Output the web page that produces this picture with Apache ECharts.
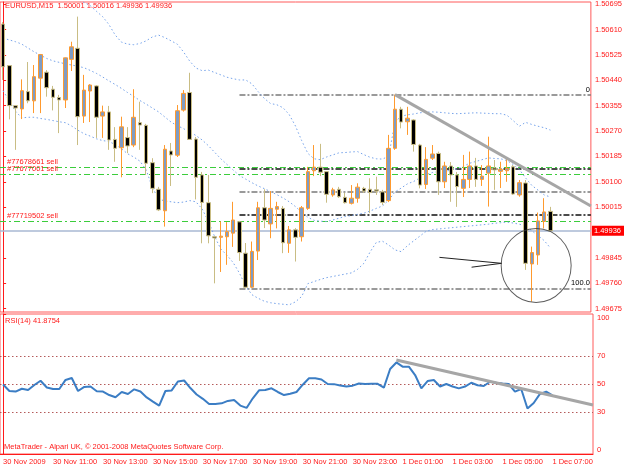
<!DOCTYPE html>
<html><head><meta charset="utf-8">
<script src="https://cdn.jsdelivr.net/npm/echarts@6/dist/echarts.min.js"></script>
<style>html,body{margin:0;padding:0;background:#fff}#c{width:625px;height:469px}</style>
</head><body><div id="c"></div>
<script>
// ---- bar times (M15) ----
const times = [
'30.11 09:00','30.11 09:15','30.11 09:30','30.11 09:45','30.11 10:00','30.11 10:15','30.11 10:30','30.11 10:45',
'30.11 11:00','30.11 11:15','30.11 11:30','30.11 11:45','30.11 12:00','30.11 12:15','30.11 12:30','30.11 12:45',
'30.11 13:00','30.11 13:15','30.11 13:30','30.11 13:45','30.11 14:00','30.11 14:15','30.11 14:30','30.11 14:45',
'30.11 15:00','30.11 15:15','30.11 15:30','30.11 15:45','30.11 16:00','30.11 16:15','30.11 16:30','30.11 16:45',
'30.11 17:00','30.11 17:15','30.11 17:30','30.11 17:45','30.11 18:00','30.11 18:15','30.11 18:30','30.11 18:45',
'30.11 19:00','30.11 19:15','30.11 19:30','30.11 19:45','30.11 20:00','30.11 20:15','30.11 20:30','30.11 20:45',
'30.11 21:00','30.11 21:15','30.11 21:30','30.11 21:45','30.11 22:00','30.11 22:15','30.11 22:30','30.11 22:45',
'30.11 23:00','30.11 23:15','30.11 23:30','30.11 23:45','01.12 00:00','01.12 00:15','01.12 00:30','01.12 00:45',
'01.12 01:00','01.12 01:15','01.12 01:30','01.12 01:45','01.12 02:00','01.12 02:15','01.12 02:30','01.12 02:45',
'01.12 03:00','01.12 03:15','01.12 03:30','01.12 03:45','01.12 04:00','01.12 04:15','01.12 04:30','01.12 04:45',
'01.12 05:00','01.12 05:15','01.12 05:30','01.12 05:45','01.12 06:00','01.12 06:15','01.12 06:30','01.12 06:45',
'01.12 07:00'];
const padSlots = ['s1','s2','s3','s4','s5','s6'];   // empty chart shift on the right

// ---- OHLC ----
const open = [1.50628,1.50489,1.50355,1.50344,1.50402,1.50371,1.50447,1.50467,1.50410,1.50382,
1.50374,1.50510,1.50547,1.50320,1.50404,1.50421,1.50320,1.50334,1.50242,1.50214,
1.50248,1.50223,1.50298,1.50289,1.50164,1.50075,1.50003,1.50203,1.50189,1.50340,
1.50399,1.50243,1.50123,1.50030,1.49916,1.49914,1.49916,1.49928,1.49966,1.49861,
1.49747,1.49868,1.50013,1.49959,1.50008,1.50011,1.49894,1.49939,1.49916,1.50011,
1.50137,1.50149,1.50134,1.50056,1.50075,1.50048,1.50028,1.50045,1.50078,1.50075,
1.50073,1.50066,1.50037,1.50212,1.50343,1.50301,1.50307,1.50223,1.50091,1.50179,
1.50195,1.50100,1.50153,1.50123,1.50078,1.50108,1.50153,1.50108,1.50129,1.50146,
1.50135,1.50137,1.50150,1.50056,1.50096,1.49825,1.49855,1.49967,1.50001];
const high = [1.50635,1.50491,1.50357,1.50443,1.50501,1.50491,1.50528,1.50474,1.50421,1.50391,
1.50516,1.50569,1.50653,1.50458,1.50427,1.50424,1.50355,1.50354,1.50283,1.50318,
1.50283,1.50410,1.50368,1.50294,1.50179,1.50083,1.50223,1.50230,1.50357,1.50407,
1.50465,1.50250,1.50133,1.50123,1.49918,1.49967,1.49965,1.50033,1.49969,1.49895,
1.49900,1.50033,1.50075,1.50069,1.50033,1.50019,1.49952,1.49945,1.50019,1.50150,
1.50223,1.50227,1.50136,1.50080,1.50083,1.50063,1.50089,1.50095,1.50083,1.50112,
1.50117,1.50073,1.50257,1.50392,1.50351,1.50351,1.50310,1.50227,1.50216,1.50223,
1.50201,1.50167,1.50166,1.50133,1.50190,1.50201,1.50180,1.50156,1.50251,1.50173,
1.50167,1.50179,1.50156,1.50106,1.50106,1.49883,1.49997,1.50045,1.50016];
const low = [1.50441,1.50309,1.50207,1.50310,1.50363,1.50330,1.50330,1.50385,1.50339,1.50263,
1.50347,1.50471,1.50223,1.50297,1.50300,1.50247,1.50247,1.50207,1.50167,1.50115,
1.50196,1.50216,1.50207,1.50123,1.50062,1.50002,1.49950,1.50086,1.50183,1.50335,
1.50240,1.50041,1.49894,1.49894,1.49760,1.49798,1.49822,1.49882,1.49835,1.49743,
1.49745,1.49838,1.49945,1.49911,1.49944,1.49861,1.49862,1.49833,1.49900,1.50006,
1.50119,1.50119,1.50030,1.50050,1.50046,1.50027,1.50024,1.50030,1.50063,1.49995,
1.50056,1.50022,1.50032,1.50207,1.50279,1.50257,1.50201,1.50078,1.50076,1.50173,
1.50056,1.50079,1.50033,1.50016,1.50049,1.50079,1.50083,1.50086,1.50017,1.50073,
1.50079,1.50100,1.50056,1.50050,1.49805,1.49699,1.49822,1.49944,1.49936];
const close = [1.50485,1.50355,1.50347,1.50405,1.50371,1.50452,1.50526,1.50415,1.50383,1.50374,
1.50515,1.50552,1.50318,1.50407,1.50424,1.50316,1.50334,1.50240,1.50212,1.50284,
1.50220,1.50316,1.50290,1.50162,1.50078,1.50006,1.50209,1.50190,1.50338,1.50396,
1.50242,1.50115,1.50031,1.49919,1.49912,1.49918,1.49933,1.49972,1.49863,1.49747,
1.49867,1.50013,1.49972,1.50011,1.50017,1.49896,1.49939,1.49914,1.50013,1.50134,
1.50149,1.50132,1.50058,1.50073,1.50050,1.50030,1.50045,1.50082,1.50069,1.50064,
1.50069,1.50031,1.50212,1.50343,1.50300,1.50313,1.50225,1.50089,1.50175,1.50193,
1.50100,1.50153,1.50123,1.50084,1.50108,1.50153,1.50108,1.50119,1.50153,1.50140,
1.50141,1.50145,1.50059,1.50097,1.49827,1.49863,1.49969,1.49999,1.49936];

// ---- Bollinger bands ----
const bbUpper = [1.50749,1.50769,1.50789,1.50792,1.50776,1.50756,1.50742,1.50732,1.50725,1.50719,
1.50715,1.50712,1.50709,1.50701,1.50690,1.50671,1.50653,1.50627,1.50592,1.50568,
1.50561,1.50559,1.50563,1.50572,1.50585,1.50591,1.50583,1.50572,1.50561,1.50535,
1.50504,1.50481,1.50472,1.50474,1.50466,1.50458,1.50450,1.50445,1.50441,1.50441,
1.50428,1.50402,1.50379,1.50362,1.50358,1.50348,1.50325,1.50287,1.50238,1.50195,
1.50177,1.50174,1.50183,1.50190,1.50197,1.50198,1.50200,1.50201,1.50191,1.50182,
1.50177,1.50176,1.50186,1.50300,1.50320,1.50324,1.50327,1.50331,1.50333,1.50334,
1.50333,1.50331,1.50329,1.50328,1.50329,1.50330,1.50331,1.50330,1.50329,1.50328,
1.50328,1.50323,1.50305,1.50286,1.50299,1.50292,1.50286,1.50281,1.50273];
const bbMiddle = [1.50581,1.50575,1.50569,1.50561,1.50548,1.50535,1.50524,1.50513,1.50505,1.50500,
1.50495,1.50491,1.50487,1.50482,1.50473,1.50463,1.50451,1.50438,1.50426,1.50413,
1.50399,1.50386,1.50372,1.50360,1.50347,1.50334,1.50317,1.50300,1.50288,1.50278,
1.50267,1.50255,1.50240,1.50221,1.50199,1.50177,1.50158,1.50139,1.50121,1.50109,
1.50097,1.50086,1.50077,1.50067,1.50057,1.50046,1.50033,1.50017,1.49998,1.49981,
1.49971,1.49968,1.49967,1.49972,1.49978,1.49984,1.49987,1.49991,1.49995,1.50002,
1.50011,1.50019,1.50039,1.50066,1.50079,1.50093,1.50101,1.50113,1.50124,1.50131,
1.50134,1.50136,1.50138,1.50143,1.50152,1.50162,1.50168,1.50174,1.50180,1.50178,
1.50177,1.50171,1.50158,1.50141,1.50113,1.50088,1.50072,1.50056,1.50049];
const bbLower = [1.50405,1.50370,1.50336,1.50314,1.50316,1.50316,1.50312,1.50309,1.50305,1.50301,
1.50298,1.50287,1.50273,1.50261,1.50253,1.50244,1.50238,1.50235,1.50225,1.50211,
1.50194,1.50183,1.50169,1.50140,1.50081,1.50042,1.50036,1.50033,1.50030,1.50032,
1.50037,1.50033,1.50009,1.49968,1.49917,1.49875,1.49854,1.49829,1.49794,1.49751,
1.49722,1.49710,1.49700,1.49695,1.49692,1.49690,1.49688,1.49698,1.49716,1.49759,
1.49766,1.49773,1.49779,1.49783,1.49787,1.49791,1.49795,1.49807,1.49827,1.49865,
1.49897,1.49901,1.49888,1.49872,1.49866,1.49886,1.49902,1.49918,1.49934,1.49940,
1.49942,1.49944,1.49946,1.49948,1.49950,1.49952,1.49954,1.49956,1.49958,1.49961,
1.49963,1.49965,1.49962,1.49958,1.49952,1.49936,1.49920,1.49903,1.49878];

// ---- RSI(14) ----
const rsi = [49.6,45,44.6,46.6,45.7,49.3,52.3,47.5,46.4,46.4,
52.9,54.3,45,47.9,48.2,44.8,44.6,42.1,40.5,44.3,
42.9,46.2,44.6,40.4,37.4,34.5,45,45.4,51.8,52.5,
47.1,42.5,39.4,35.7,35.7,36.2,37.9,38.6,34.6,32.9,
39.8,45.5,45.7,46.9,44.3,42.1,43.1,44.3,49.5,54.1,
54.1,53.2,50,49.9,48.9,48.2,48.8,50.4,50,50.2,
50.1,47.4,60.7,65.4,62.4,62.4,56.4,46.9,52.1,52.9,
48.2,50,48.2,46.9,48.2,50.9,49.1,48.6,51.6,50.9,
50.4,50,44.6,46.4,32.5,36.4,42.9,44.5,41.8754];
const rsiLevels = [70, 50, 30];

// ---- axis ticks ----
const priceTicks = [1.49675,1.49760,1.49845,1.50015,1.50100,1.50185,1.50270,1.50355,1.50440,1.50525,1.50610,1.50695];
const rsiTicks = [0,30,50,70,100];
const timeTickBars = [0,8,16,24,32,40,48,56,64,72,80,88];
const timeTickLabels = ['30 Nov 2009','30 Nov 11:00','30 Nov 13:00','30 Nov 15:00','30 Nov 17:00','30 Nov 19:00',
  '30 Nov 21:00','30 Nov 23:00','1 Dec 01:00','1 Dec 03:00','1 Dec 05:00','1 Dec 07:00'];

// ---- objects drawn on the chart ----
const orders = [
  {label:'#77678661 sell', price:1.50149},
  {label:'#77677001 sell', price:1.50125},
  {label:'#77719502 sell', price:1.49968}
];
const fibFromBar = 38, fibHigh = 1.50392, fibLow = 1.49743;
const fibRatios = [0, 0.382, 0.5, 0.618, 1];
const priceTrend = [[63, 1.50392], [94.5, 1.50019]];
const rsiTrend = [[63, 67.1], [94.5, 35]];
const arrowLines = [[[70.15, 1.49847],[80.13, 1.49827]], [[75.32, 1.49814],[80.13, 1.49827]]];
const circleMark = [85.7, 1.49820];
const X0 = -0.5, X1 = 94.5;   // left / right edges of the plot in bar units

const cats = times.concat(padSlots);
const candles = open.map((o,i)=>[o, close[i], low[i], high[i]]);
const lastClose = close[close.length-1];
const RED = '#ff1a1a';
const FONT = 'Liberation Sans';
const isTick = (i) => timeTickBars.indexOf(i) >= 0;

const orderLines = orders.map(o=>[
  {coord:[X0, o.price], lineStyle:{color:'#3ccd3c', type:[6,3,2,3], width:1},
   label:{show:true, position:'insideStartTop', formatter:o.label, color:RED, fontSize:7.5, fontFamily:FONT, distance:[7,1]}},
  {coord:[X1, o.price]}]);
const bidLine = [[
  {coord:[X0, lastClose], lineStyle:{color:'#a9b9d3', type:'solid', width:1.5},
   label:{show:true, position:'end', distance:1, formatter:lastClose.toFixed(5), color:'#ffffff',
          backgroundColor:'#ff0000', padding:[1,3,1,2], fontSize:7.5, fontFamily:FONT}},
  {coord:[X1, lastClose]}]];
const fibLines = fibRatios.map(r=>{
  const p = fibHigh - (fibHigh - fibLow) * r;
  const dark = (r===0.382 || r===0.618);
  return [{coord:[fibFromBar, p], lineStyle:{color: dark ? '#111111' : '#7a7a7a', type:[6,2,2,2], width:1.5},
           label:{show: r===0 || r===1, position:'insideEndTop', formatter: r===0 ? '0' : '100.0',
                  color:'#000', fontSize:7.5, fontFamily:FONT, distance:1}},
          {coord:[X1, p]}];
});

const chart = echarts.init(document.getElementById('c'), null, {renderer:'canvas'});
chart.setOption({
  animation:false,
  backgroundColor:'#ffffff',
  textStyle:{fontFamily:FONT},
  grid:[
    {left:0, right:32, top:2, height:310, show:true, borderColor:'#ff5a5a', borderWidth:1, backgroundColor:'#ffffff'},
    {left:0, right:32, top:314, height:140, show:true, borderColor:'#ff5a5a', borderWidth:1, backgroundColor:'#ffffff'}
  ],
  xAxis:[
    {type:'category', gridIndex:0, data:cats, boundaryGap:true, axisLine:{show:false}, axisTick:{show:false}, axisLabel:{show:false}},
    {type:'category', gridIndex:1, data:cats, boundaryGap:true,
      axisLine:{lineStyle:{color:RED}},
      axisTick:{interval:(i)=>isTick(i), alignWithLabel:true, length:3, lineStyle:{color:RED}},
      axisLabel:{interval:(i)=>isTick(i), color:RED, fontSize:7.5, fontFamily:FONT, align:'left', margin:4,
        formatter:(v,i)=>timeTickLabels[timeTickBars.indexOf(i)] || ''}},
    {type:'value', gridIndex:0, min:X0, max:X1, show:false},
    {type:'value', gridIndex:1, min:X0, max:X1, show:false}
  ],
  yAxis:[
    {type:'value', gridIndex:0, position:'right', min:1.49664, max:1.50702, splitLine:{show:false},
      axisLine:{show:true, lineStyle:{color:RED}},
      axisTick:{show:true, length:3, lineStyle:{color:RED}, customValues:priceTicks},
      axisLabel:{color:RED, fontSize:7.5, fontFamily:FONT, margin:4, customValues:priceTicks, formatter:(v)=>v.toFixed(5)}},
    {type:'value', gridIndex:1, position:'right', min:0, max:100, splitLine:{show:false},
      axisLine:{show:true, lineStyle:{color:RED}},
      axisTick:{show:true, length:3, lineStyle:{color:RED}, customValues:rsiTicks},
      axisLabel:{color:RED, fontSize:7.5, fontFamily:FONT, margin:4, customValues:rsiTicks,
        formatter:(v)=> v===100 ? '{t|100}' : (v===0 ? '{b|0}' : String(v)),
        rich:{t:{padding:[8,0,0,0], color:RED, fontSize:7.5}, b:{padding:[0,0,8,0], color:RED, fontSize:7.5}}}}
  ],
  series:[
    {type:'line', name:'levels', xAxisIndex:2, yAxisIndex:0, data:[[X0, lastClose],[X1, lastClose]], symbol:'none',
      lineStyle:{opacity:0}, z:1, silent:true,
      markLine:{symbol:['none','none'], silent:true, z:1, data: orderLines.concat(bidLine).concat(fibLines)}},
    {type:'line', name:'bbU', xAxisIndex:0, yAxisIndex:0, data:bbUpper, showSymbol:false, symbol:'none',
      lineStyle:{color:'#76a3ea', width:1, type:[1.5,2.5]}, z:2},
    {type:'line', name:'bbM', xAxisIndex:0, yAxisIndex:0, data:bbMiddle, showSymbol:false, symbol:'none',
      lineStyle:{color:'#76a3ea', width:1, type:[1.5,2.5]}, z:2},
    {type:'line', name:'bbL', xAxisIndex:0, yAxisIndex:0, data:bbLower, showSymbol:false, symbol:'none',
      lineStyle:{color:'#76a3ea', width:1, type:[1.5,2.5]}, z:2},
    {type:'candlestick', name:'EURUSD', xAxisIndex:0, yAxisIndex:0, data:candles, barWidth:4, z:3,
      itemStyle:{color:'#7f9cc4', color0:'#000000', borderColor:'#ff9a2e', borderColor0:'#c9bd84', borderWidth:1}},
    {type:'line', name:'trend', xAxisIndex:2, yAxisIndex:0, data:priceTrend, symbol:'none',
      lineStyle:{color:'#a6a6a6', width:3}, z:4},
    {type:'scatter', name:'circle', xAxisIndex:2, yAxisIndex:0, data:[circleMark], symbol:'circle', symbolSize:[70,74],
      itemStyle:{color:'rgba(0,0,0,0)', borderColor:'#333333', borderWidth:1}, z:5, silent:true,
      markLine:{symbol:['none','none'], silent:true,
        data: arrowLines.map(s=>[{coord:s[0], lineStyle:{color:'#222', width:1, type:'solid'}, label:{show:false}}, {coord:s[1]}])}},
    {type:'line', name:'RSI', xAxisIndex:1, yAxisIndex:1, data:rsi, symbol:'none', showSymbol:false,
      lineStyle:{color:'#3b7dc4', width:2}, z:3,
      markLine:{symbol:['none','none'], silent:true, z:1,
        data: rsiLevels.map(v=>({yAxis:v, lineStyle:{color:'#b45a5a', type:[1.5,2.5], width:1}, label:{show:false}}))}},
    {type:'line', name:'rsiTrend', xAxisIndex:3, yAxisIndex:1, data:rsiTrend, symbol:'none',
      lineStyle:{color:'#a6a6a6', width:3}, z:4}
  ],
  graphic:[
    {type:'text', left:5, top:2, z:10, style:{text:'EURUSD,M15  1.50001 1.50016 1.49936 1.49936', fill:RED, font:'7.5px "Liberation Sans"'}},
    {type:'text', left:5, top:317, z:10, style:{text:'RSI(14) 41.8754', fill:RED, font:'7.5px "Liberation Sans"'}},
    {type:'text', left:4, top:443, z:10, style:{text:'MetaTrader - Alpari UK, \u00a9 2001-2008 MetaQuotes Software Corp.', fill:RED, font:'7.5px "Liberation Sans"'}}
  ]
});
</script></body></html>
